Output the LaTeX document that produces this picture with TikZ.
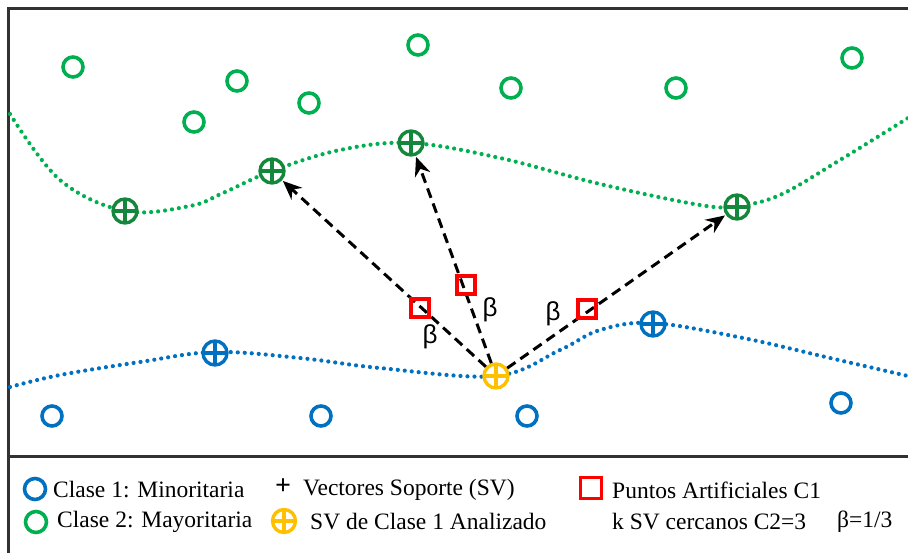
\documentclass[tikz,border=0pt]{standalone}
\usepackage{fontspec}
\setmainfont{Liberation Serif}
\newfontfamily\sansb{Liberation Sans}
\usetikzlibrary{arrows.meta}
\definecolor{cgreen}{RGB}{0,176,80}
\definecolor{cdgreen}{RGB}{20,135,60}
\definecolor{cblue}{RGB}{0,112,192}
\definecolor{cyellow}{RGB}{255,192,0}
\definecolor{cred}{RGB}{255,0,0}
\definecolor{cframe}{RGB}{50,50,50}
\tikzset{
  pt/.style={circle,draw=#1,line width=3.6pt,minimum size=20pt,inner sep=0pt},
  sv/.style={circle,draw=#1,line width=3.4pt,minimum size=24pt,inner sep=0pt,
    path picture={\draw[#1,line width=3.2pt] (path picture bounding box.north) -- (path picture bounding box.south)
      (path picture bounding box.west) -- (path picture bounding box.east);}},
  artif/.style={draw=cred,line width=3.2pt,minimum size=18pt,inner sep=0pt},
  dotcurve/.style={line width=4.2pt,line cap=round,dash pattern=on 0pt off 7pt},
  arr/.style={line width=3pt,dash pattern=on 10pt off 6pt,-{Stealth[length=19pt,width=16pt]}},
  betalab/.style={font=\sansb\fontsize{26}{28}\selectfont,inner sep=0pt},
  legtxt/.style={font=\fontsize{23.5}{26}\selectfont,anchor=west,inner sep=0pt},
}
\begin{document}
\begin{tikzpicture}[x=1pt,y=-1pt]
\useasboundingbox (0,0) rectangle (908,552);
% frame
\draw[cframe,line width=3pt] (8,560) -- (8,8) -- (915,8);
\draw[cframe,line width=3pt] (8,456) -- (915,456);
% curves
\draw[cgreen,dotcurve] plot[smooth,tension=0.6] coordinates {(10,114) (60,180) (125,211) (190,206) (223,193) (272,171) (340,150) (411,143) (500,158) (600,184) (700,205) (737,206) (780,195) (840,160) (908,118)};
\draw[cblue,dotcurve] plot[smooth,tension=0.6] coordinates {(10,387) (60,375) (140,362) (215,352) (300,358) (380,368) (496,376) (560,350) (600,330) (653,323) (743,338) (830,358) (908,376)};
% class 2 points
\node[pt=cgreen] (g1) at (73,67) {};
\node[pt=cgreen] (g2) at (237,81) {};
\node[pt=cgreen] (g3) at (194,122) {};
\node[pt=cgreen] (g4) at (309,103) {};
\node[pt=cgreen] (g5) at (418,45) {};
\node[pt=cgreen] (g6) at (511,88) {};
\node[pt=cgreen] (g7) at (676,88) {};
\node[pt=cgreen] (g8) at (852,58) {};
% class 1 points
\node[pt=cblue] (b1) at (52,416) {};
\node[pt=cblue] (b2) at (321,416) {};
\node[pt=cblue] (b3) at (527,416) {};
\node[pt=cblue] (b4) at (841,403) {};
% support vectors
\node[sv=cdgreen,fill=white] (s1) at (125,211) {};
\node[sv=cdgreen,fill=white] (s2) at (272,171) {};
\node[sv=cdgreen,fill=white] (s3) at (411,143) {};
\node[sv=cdgreen,fill=white] (s4) at (737,207) {};
\node[sv=cblue,fill=white] (s5) at (215,353) {};
\node[sv=cblue,fill=white] (s6) at (653,324) {};
\node[sv=cyellow,fill=white] (y) at (496,376) {};
% arrows
\draw[arr,shorten >=1pt] (y) -- (s2);
\draw[arr,shorten >=1pt] (y) -- (s3);
\draw[arr,shorten >=1pt] (y) -- (s4);
% artificial points
\node[artif] (a1) at (420,308) {};
\node[artif] (a2) at (466,285) {};
\node[artif] (a3) at (587,309) {};
\node[betalab] (be1) at (430,337) {β};
\node[betalab] (be2) at (490,310) {β};
\node[betalab] (be3) at (553,314) {β};
% legend
\node[pt=cblue,minimum size=21pt] (l1) at (35,489) {};
\node[legtxt] (t1) at (53,490) {Clase 1: Minoritaria};
\node[pt=cgreen,minimum size=21pt] (l2) at (36,522) {};
\node[legtxt] (t2) at (57,522) {Clase 2: Mayoritaria};
\node[font=\fontsize{28}{28}\selectfont\bfseries,inner sep=0pt] (l3) at (283,487) {+};
\node[legtxt] (t3) at (303,490) {Vectores Soporte (SV)};
\node[sv=cyellow,minimum size=23pt] (l4) at (284,521) {};
\node[legtxt] (t4) at (310,522) {SV de Clase 1 Analizado};
\node[artif,minimum size=21pt] (l5) at (591,488) {};
\node[legtxt] (t5) at (612,490) {Puntos Artificiales C1};
\node[legtxt] (t6) at (612,522) {k SV cercanos C2=3};
\node[legtxt] (t7) at (837,522) {β=1/3};
\end{tikzpicture}
\end{document}
